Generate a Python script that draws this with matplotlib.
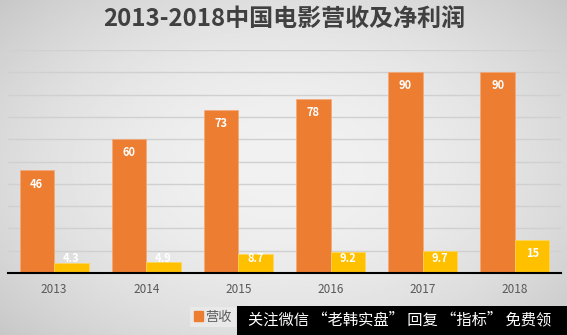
import matplotlib.pyplot as plt
import matplotlib.patches as mpatches
import numpy as np

years = ['2013', '2014', '2015', '2016', '2017', '2018']
revenue = [46, 60, 73, 78, 90, 90]
profit = [4.3, 4.9, 8.7, 9.2, 9.7, 15]

plt.rcParams['font.family'] = ['Noto Sans CJK SC', 'DejaVu Sans']

fig = plt.figure(figsize=(5.67, 3.35), dpi=100)

# 背景渐变
bg = fig.add_axes([0, 0, 1, 1], zorder=-1)
xx, yy = np.meshgrid(np.linspace(-1, 1, 300), np.linspace(-1, 1, 200))
r2 = xx ** 2 + (yy * 0.9) ** 2
bg.imshow(0.945 - 0.09 * r2, cmap='gray', vmin=0, vmax=1, aspect='auto',
          extent=[0, 1, 0, 1])
bg.axis('off')

ax = fig.add_axes([8 / 567, 62 / 335, 553 / 567, 223 / 335])
ax.set_facecolor('none')

x = np.arange(len(years))
w = 0.375
ax.bar(x - w / 2, revenue, w, color='#ED7D31', edgecolor='#f3a878', linewidth=0.5, zorder=3)
ax.bar(x + w / 2, profit, w, color='#FFC000', edgecolor='#ffd75a', linewidth=0.5, zorder=3)

# 数据标签
for i in range(len(years)):
    ax.text(x[i] - w / 2, max(revenue[i] - 6.1, 6.3), str(revenue[i]), ha='center', va='center',
            color='white', fontsize=8, fontweight='bold', zorder=4)
    ax.text(x[i] + w / 2, max(profit[i] - 6.1, 6.3), str(profit[i]), ha='center', va='center',
            color='white', fontsize=8, fontweight='bold', zorder=4)

ax.set_xlim(-0.5, 5.5)
ax.set_ylim(0, 100)
ax.set_yticks(np.arange(0, 101, 10))
ax.set_yticklabels([])
ax.grid(axis='y', color='#d0d0d0', linewidth=1, zorder=0)
ax.set_xticks(x)
ax.set_xticklabels(years, fontsize=8.5, color='#595959')
ax.tick_params(length=0, pad=7)
for s in ['top', 'left', 'right']:
    ax.spines[s].set_visible(False)
ax.spines['bottom'].set_color('black')
ax.spines['bottom'].set_linewidth(1.5)
ax.spines['bottom'].set_zorder(5)

fig.text(284 / 567, 1 - 19 / 335, '2013-2018中国电影营收及净利润', ha='center', va='center',
         fontsize=17.3, fontweight='bold', color='#404040')

handles = [mpatches.Patch(color='#ED7D31', label='营收')]
fig.legend(handles=handles, loc='center left', bbox_to_anchor=(183 / 567, 1 - 317 / 335),
           frameon=True, facecolor='#ececec', edgecolor='none', fontsize=9.5,
           labelcolor='#595959', handlelength=0.7, handleheight=0.7, handletextpad=0.2,
           borderpad=0.3, fancybox=False)

# 水印
fig.patches.append(mpatches.Rectangle((237 / 567, 0), 330 / 567, 29 / 335, transform=fig.transFigure,
                                      facecolor='black', edgecolor='none', zorder=10))
fig.text(400 / 567, 1 - 320 / 335, '关注微信 “老韩实盘” 回复 “指标” 免费领', ha='center', va='center',
         color='white', fontsize=11, zorder=11)

fig.savefig('out.png', dpi=100)
